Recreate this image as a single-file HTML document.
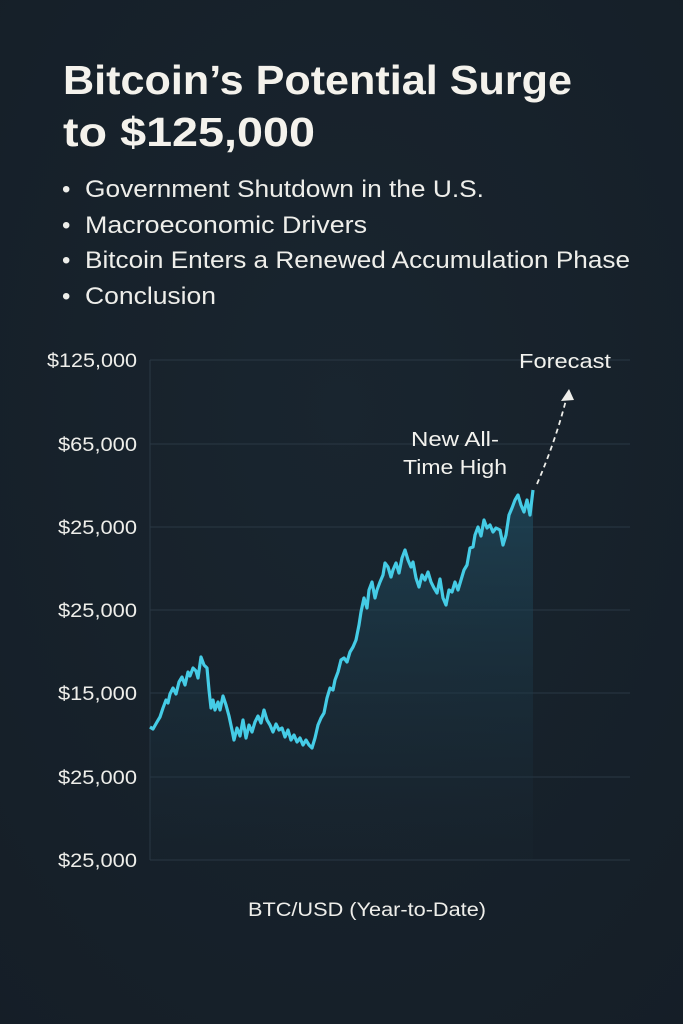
<!DOCTYPE html>
<html><head><meta charset="utf-8"><style>
html,body{margin:0;padding:0;background:#17212b;}
body{width:683px;height:1024px;overflow:hidden;position:relative;font-family:"Liberation Sans",sans-serif;color:#f2f2ee;}
</style></head><body>
<svg width="683" height="1024" viewBox="0 0 683 1024" xmlns="http://www.w3.org/2000/svg" style="position:absolute;left:0;top:0">
<defs>
<linearGradient id="g" x1="0" y1="0" x2="0" y2="1">
<stop offset="0" stop-color="#1f4a5e" stop-opacity="0.75"/>
<stop offset="1" stop-color="#1a2c38" stop-opacity="0.1"/>
</linearGradient>
<radialGradient id="bg" cx="0.5" cy="0.4" r="0.8">
<stop offset="0" stop-color="#19252f"/><stop offset="1" stop-color="#151e27"/>
</radialGradient>
</defs>
<rect width="683" height="1024" fill="url(#bg)"/>
<text x="63" y="94" font-size="41" font-weight="bold" fill="#f4f2ec" textLength="509" lengthAdjust="spacingAndGlyphs" font-family="Liberation Sans, sans-serif">Bitcoin’s Potential Surge</text>
<text x="63" y="146" font-size="41" font-weight="bold" fill="#f4f2ec" textLength="252" lengthAdjust="spacingAndGlyphs" font-family="Liberation Sans, sans-serif">to $125,000</text>
<g font-size="24" fill="#eeeeea" font-family="Liberation Sans, sans-serif">
<text x="62" y="197">•</text><text x="85" y="197" textLength="399" lengthAdjust="spacingAndGlyphs">Government Shutdown in the U.S.</text>
<text x="62" y="233">•</text><text x="85" y="233" textLength="282" lengthAdjust="spacingAndGlyphs">Macroeconomic Drivers</text>
<text x="62" y="268">•</text><text x="85" y="268" textLength="545" lengthAdjust="spacingAndGlyphs">Bitcoin Enters a Renewed Accumulation Phase</text>
<text x="62" y="304">•</text><text x="85" y="304" textLength="131" lengthAdjust="spacingAndGlyphs">Conclusion</text>
</g>
<g stroke="#2a3844" stroke-width="1">
<line x1="150" y1="360" x2="630" y2="360"/>
<line x1="150" y1="444" x2="630" y2="444"/>
<line x1="150" y1="527" x2="630" y2="527"/>
<line x1="150" y1="610" x2="630" y2="610"/>
<line x1="150" y1="693" x2="630" y2="693"/>
<line x1="150" y1="777" x2="630" y2="777"/>
<line x1="150" y1="860" x2="630" y2="860"/>
<line x1="150" y1="360" x2="150" y2="860"/>
</g>
<g font-size="19" fill="#eeeeea" text-anchor="end" font-family="Liberation Sans, sans-serif">
<text x="137" y="367" textLength="90" lengthAdjust="spacingAndGlyphs">$125,000</text>
<text x="137" y="451" textLength="79" lengthAdjust="spacingAndGlyphs">$65,000</text>
<text x="137" y="534" textLength="79" lengthAdjust="spacingAndGlyphs">$25,000</text>
<text x="137" y="617" textLength="79" lengthAdjust="spacingAndGlyphs">$25,000</text>
<text x="137" y="700" textLength="79" lengthAdjust="spacingAndGlyphs">$15,000</text>
<text x="137" y="784" textLength="79" lengthAdjust="spacingAndGlyphs">$25,000</text>
<text x="137" y="867" textLength="79" lengthAdjust="spacingAndGlyphs">$25,000</text>
</g>
<polygon fill="url(#g)" points="150,727 153,729 157,722 160,717 163,708 166,700 168,703 170,694 173,688 176,694 179,682 182,677 185,685 188,672 190,676 193,668 196,671 198,678 201,657 204,665 207,668 209,690 211,708 213,700 215,710 218,702 220,710 223,696 226,705 229,716 232,730 234,740 237,728 240,736 243,720 246,738 249,725 252,732 255,722 258,716 261,723 264,710 267,720 270,725 273,732 276,724 279,730 282,728 285,737 288,730 291,740 294,735 297,742 300,738 303,745 306,740 309,745 312,748 315,738 318,725 321,718 324,713 327,698 330,688 333,690 335,680 338,672 341,660 344,658 347,662 350,652 353,647 356,640 359,625 361,612 364,598 367,608 369,590 372,582 375,598 377,590 380,582 383,575 385,563 388,567 391,577 393,570 396,563 399,573 402,558 405,550 408,560 411,567 413,562 416,578 419,587 422,575 425,580 428,572 431,582 434,588 437,593 440,579 443,598 446,605 449,590 452,592 455,582 458,590 461,580 464,570 467,565 470,548 473,547 475,535 478,527 481,536 484,520 487,528 490,525 493,532 496,528 500,530 503,545 506,535 509,515 512,508 515,500 518,495 521,505 524,512 527,500 530,515 533,490 533,860 150,860"/>
<polyline fill="none" stroke="#45cce6" stroke-width="3.2" stroke-linejoin="round" points="150,727 153,729 157,722 160,717 163,708 166,700 168,703 170,694 173,688 176,694 179,682 182,677 185,685 188,672 190,676 193,668 196,671 198,678 201,657 204,665 207,668 209,690 211,708 213,700 215,710 218,702 220,710 223,696 226,705 229,716 232,730 234,740 237,728 240,736 243,720 246,738 249,725 252,732 255,722 258,716 261,723 264,710 267,720 270,725 273,732 276,724 279,730 282,728 285,737 288,730 291,740 294,735 297,742 300,738 303,745 306,740 309,745 312,748 315,738 318,725 321,718 324,713 327,698 330,688 333,690 335,680 338,672 341,660 344,658 347,662 350,652 353,647 356,640 359,625 361,612 364,598 367,608 369,590 372,582 375,598 377,590 380,582 383,575 385,563 388,567 391,577 393,570 396,563 399,573 402,558 405,550 408,560 411,567 413,562 416,578 419,587 422,575 425,580 428,572 431,582 434,588 437,593 440,579 443,598 446,605 449,590 452,592 455,582 458,590 461,580 464,570 467,565 470,548 473,547 475,535 478,527 481,536 484,520 487,528 490,525 493,532 496,528 500,530 503,545 506,535 509,515 512,508 515,500 518,495 521,505 524,512 527,500 530,515 533,490"/>
<path d="M537,484 Q556,440 567,396" fill="none" stroke="#eeeeea" stroke-width="1.8" stroke-dasharray="5,4"/>
<polygon points="569,389 561,401 574,400" fill="#eeeeea"/>
<g font-size="20" fill="#f2f2ee" text-anchor="middle" font-family="Liberation Sans, sans-serif">
<text x="565" y="368" textLength="92" lengthAdjust="spacingAndGlyphs">Forecast</text>
<text x="455" y="446" textLength="88" lengthAdjust="spacingAndGlyphs">New All-</text>
<text x="455" y="474" textLength="104" lengthAdjust="spacingAndGlyphs">Time High</text>
</g>
<text x="367" y="916" font-size="19" fill="#eeeeea" text-anchor="middle" textLength="238" lengthAdjust="spacingAndGlyphs" font-family="Liberation Sans, sans-serif">BTC/USD (Year-to-Date)</text>
</svg>
</body></html>
